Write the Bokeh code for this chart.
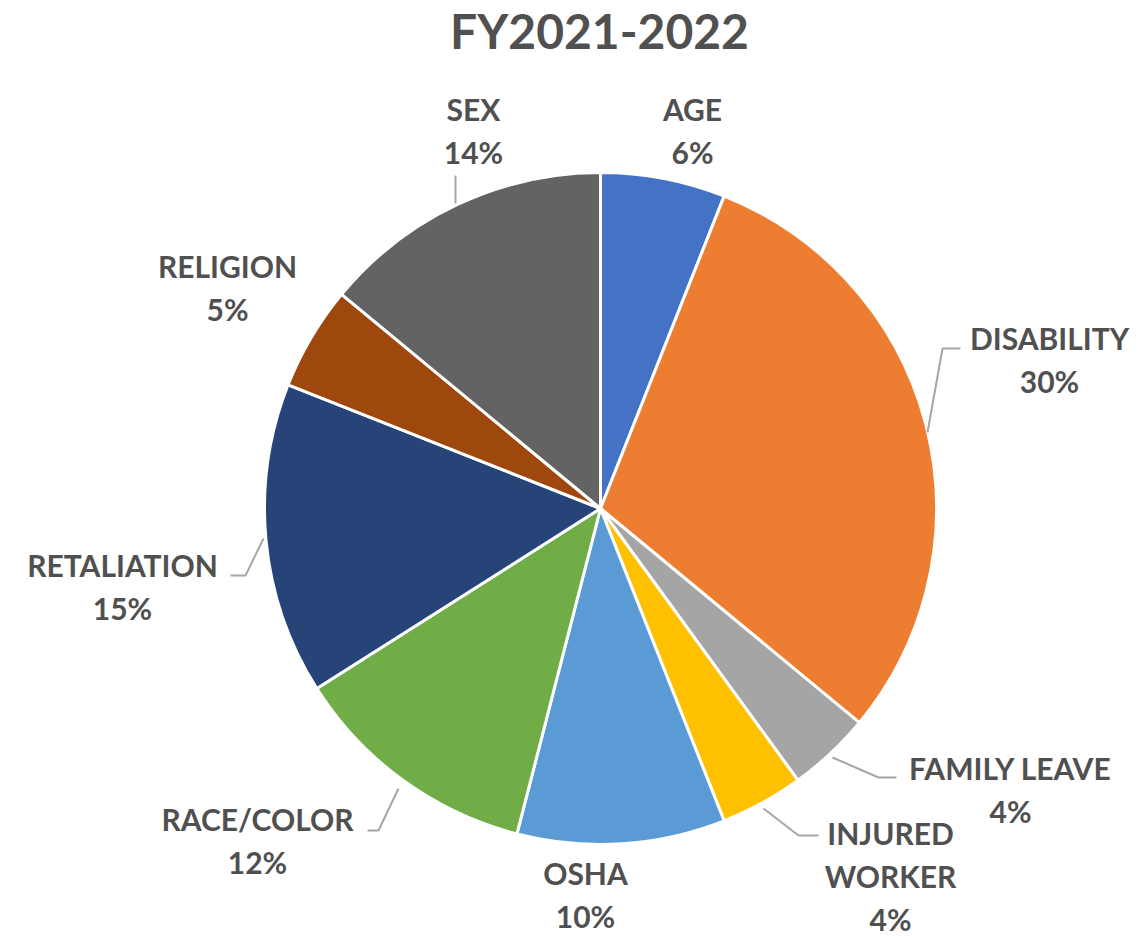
import math
from bokeh.plotting import figure
from bokeh.models import Range1d, ColumnDataSource
from bokeh.core.properties import value
from bokeh.embed import file_html
from bokeh.resources import INLINE

# ---- data ----
categories = ["AGE", "DISABILITY", "FAMILY LEAVE", "INJURED WORKER", "OSHA",
              "RACE/COLOR", "RETALIATION", "RELIGION", "SEX"]
shares = [6, 30, 4, 4, 10, 12, 15, 5, 14]
label_lines = [["AGE"], ["DISABILITY"], ["FAMILY LEAVE"], ["INJURED", "WORKER"], ["OSHA"],
               ["RACE/COLOR"], ["RETALIATION"], ["RELIGION"], ["SEX"]]
colors = ["#4472C4", "#ED7D31", "#A5A5A5", "#FFC000", "#5B9BD5",
          "#70AD47", "#264478", "#9E480E", "#636363"]
title = "FY2021-2022"

# ---- layout (screen pixels, y downward) ----
W, H = 1139, 936
CX, CY, R = 600, 508, 336
label_anchor = [(692, 108), (1049, 337), (1010, 767), (890, 832), (585, 872),
                (257, 818), (122, 564), (227, 265), (473, 108)]
LINE_H = 43
leaders = [
    None,
    [(927, 432), (942, 348), (960, 348)],
    [(832, 757), (878, 777), (896, 777)],
    [(763, 808), (798, 835), (818, 835)],
    None,
    [(398, 788), (378, 830), (367, 830)],
    [(263, 538), (245, 575), (230, 575)],
    None,
    [(455, 175), (455, 203)],
]

def Y(y):
    return H - y

p = figure(width=W, height=H, output_backend="svg", toolbar_location=None,
           x_range=Range1d(0, W), y_range=Range1d(0, H), min_border=0)
p.axis.visible = False
p.grid.visible = False
p.outline_line_color = None
p.background_fill_color = "white"
p.border_fill_color = "white"

total = sum(shares)
starts, ends = [], []
cum = 0.0
for s in shares:
    t1 = cum / total * 2 * math.pi
    cum += s
    t2 = cum / total * 2 * math.pi
    # clockwise from top -> bokeh anticlockwise from +x
    starts.append(math.pi / 2 - t2)
    ends.append(math.pi / 2 - t1)

src = ColumnDataSource(dict(start=starts, end=ends, color=colors, cat=categories))
p.wedge(x=CX, y=Y(CY), radius=R, start_angle="start", end_angle="end",
        fill_color="color", line_color="white", line_width=3, source=src)

# leader lines
xs, ys = [], []
for ld in leaders:
    if ld:
        xs.append([pt[0] for pt in ld])
        ys.append([Y(pt[1]) for pt in ld])
p.multi_line(xs=xs, ys=ys, line_color="#A6A6A6", line_width=2)

# labels
tx, ty, tt = [], [], []
for lines, (ax, ay), s in zip(label_lines, label_anchor, shares):
    allv = lines + [f"{s}%"]
    for i, t in enumerate(allv):
        tx.append(ax)
        ty.append(Y(ay + i * LINE_H))
        tt.append(t)
p.text(x=tx, y=ty, text=tt, text_font=value("Lato"), text_font_style="bold",
       text_font_size="30px", text_color="#505050", text_align="center",
       text_baseline="middle")

p.text(x=[599], y=[Y(30)], text=[title], text_font=value("Lato"), text_font_style="bold",
       text_font_size="48px", text_color="#505050", text_align="center",
       text_baseline="middle")

open("out.html", "w").write(file_html(p, INLINE))
